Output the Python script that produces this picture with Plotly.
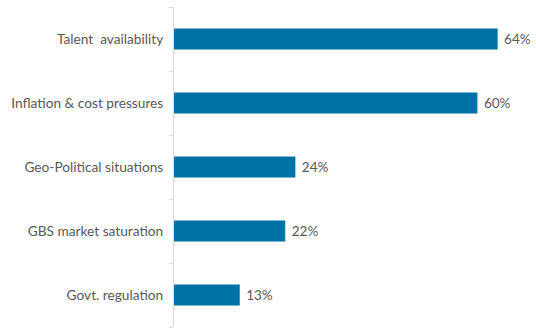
import plotly.graph_objects as go

categories = ["Talent  availability", "Inflation & cost pressures", "Geo-Political situations",
              "GBS market saturation", "Govt. regulation"]
values = [64, 60, 24, 22, 13]
labels = [f"\u00a0{v}%" for v in values]

bar_color = "#0073A6"
text_color = "#595959"
font_family = "Lato, 'Open Sans', sans-serif"

fig = go.Figure(
    go.Bar(
        y=categories,
        x=values,
        orientation="h",
        marker=dict(color=bar_color, line=dict(width=0)),
        width=0.33,
        text=labels,
        textposition="outside",
        textfont=dict(color=text_color, size=13.5, family=font_family),
        cliponaxis=False,
    )
)

fig.update_layout(
    width=536,
    height=329,
    margin=dict(l=174, r=8, t=7, b=2),
    paper_bgcolor="white",
    plot_bgcolor="white",
    showlegend=False,
    font=dict(family=font_family, color=text_color, size=13.5),
)
fig.update_xaxes(range=[0, 70], visible=False, showgrid=False, zeroline=False)
fig.update_yaxes(
    categoryorder="array",
    categoryarray=categories[::-1],
    tickson="boundaries",
    ticks="outside",
    ticklen=4,
    tickcolor="#D9D9D9",
    showline=True,
    linecolor="#D9D9D9",
    linewidth=1,
    showgrid=False,
    tickfont=dict(color=text_color, size=13.7, family=font_family),
    ticklabelstandoff=7,
)

fig.write_html("out.html")
